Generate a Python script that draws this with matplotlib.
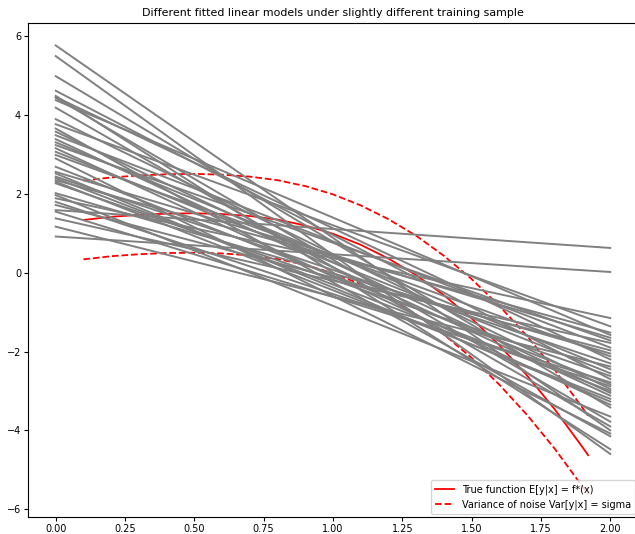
import numpy as np
import matplotlib
matplotlib.use("Agg")
import matplotlib.pyplot as plt

# fitted lines: value at x=0 and value at x=2
line_start = [5.77, 5.50, 4.99, 4.62, 4.49, 4.46, 4.44, 4.38, 4.19, 3.90,
              3.77, 3.66, 3.58, 3.49, 3.39, 3.31, 3.24, 3.16, 3.07, 2.99,
              2.90, 2.69, 2.56, 2.52, 2.44, 2.40, 2.35, 2.31, 2.27, 2.02,
              1.97, 1.89, 1.80, 1.72, 1.59, 1.55, 1.38, 1.17, 0.92]
line_end = [-4.00, -4.60, -3.42, -2.70, -4.48, -2.20, -3.78, -1.58, -3.90, -2.95,
            -1.36, -4.15, -3.05, -1.90, -3.12, -2.45, -1.72, -3.35, -2.55, -2.12,
            -4.08, -2.83, -1.65, -3.27, -2.30, -3.00, -1.52, -3.20, -2.62, -2.05,
            -3.65, -1.15, -2.88, -1.97, 0.63, -2.78, -1.78, -2.38, 0.02]
line_x = [0.0, 2.0]

# true function f*(x)
x_true = [0.1, 0.2, 0.3, 0.4, 0.5, 0.6, 0.7, 0.8, 0.9, 1.0,
          1.1, 1.2, 1.3, 1.4, 1.5, 1.6, 1.7, 1.8, 1.9, 1.92]
y_true = [1.34, 1.42, 1.47, 1.50, 1.51, 1.49, 1.44, 1.35, 1.20, 0.99,
          0.71, 0.36, -0.06, -0.57, -1.16, -1.84, -2.61, -3.47, -4.43, -4.63]
sigma = 1.0

fig = plt.figure(figsize=(6.35, 5.34), dpi=100)
ax = fig.add_axes([28 / 635, 17 / 534, 610 / 635, 494 / 534])

xt = np.array(x_true)
yt = np.array(y_true)
ax.plot(xt, yt, color="red", lw=1.3, label="True function E[y|x] = f*(x)")
ax.plot(xt, yt + sigma, color="red", lw=1.3, ls="--",
        label="Variance of noise Var[y|x] = sigma")
ax.plot(xt, yt - sigma, color="red", lw=1.3, ls="--")

for a, b in zip(line_start, line_end):
    ax.plot(line_x, [a, b], color="grey", lw=1.4)

xticks = [0, 0.25, 0.5, 0.75, 1.0, 1.25, 1.5, 1.75, 2.0]
ax.set_xticks(xticks)
ax.set_xticklabels(["%.2f" % v for v in xticks])
ax.set_yticks([-6, -4, -2, 0, 2, 4, 6])
ax.tick_params(labelsize=7, length=3, pad=2)
ax.set_title("Different fitted linear models under slightly different training sample",
             fontsize=7.9, pad=5)
ax.legend(loc="lower right", fontsize=7, borderaxespad=0.3)

fig.savefig("out.png", dpi=100)
